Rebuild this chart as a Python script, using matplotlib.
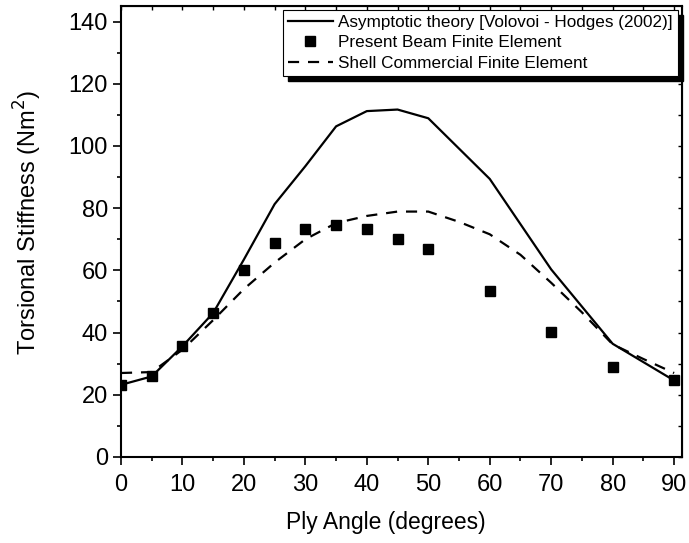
import matplotlib.pyplot as plt
from matplotlib.ticker import MultipleLocator
from matplotlib.patches import Rectangle

plt.rcParams['font.family'] = ['Liberation Sans', 'DejaVu Sans']

# asymptotic theory (solid line)
theory_angle = [0, 5, 10, 15, 20, 25, 30, 35, 40, 45, 50, 60, 70, 80, 90]
theory_stiff = [23.2, 25.9, 35.6, 46.3, 63.5, 81.3, 93.5, 106.3, 111.2, 111.7, 108.9, 89.4, 60.3, 36.4, 24.6]

# present beam FE (squares)
beam_angle = [0, 5, 10, 15, 20, 25, 30, 35, 40, 45, 50, 60, 70, 80, 90]
beam_stiff = [23.3, 25.9, 35.6, 46.3, 60.0, 68.9, 73.4, 74.5, 73.4, 70.0, 66.8, 53.3, 40.1, 28.9, 24.6]

# shell commercial FE (dashed)
shell_angle = [0, 5, 10, 15, 20, 25, 30, 35, 40, 45, 50, 55, 60, 65, 70, 75, 80, 85, 90]
shell_stiff = [27.0, 27.3, 34.5, 44.0, 54.0, 62.5, 70.0, 75.2, 77.5, 78.9, 78.9, 75.6, 71.6, 65.0, 56.0, 46.5, 36.2, 31.5, 27.0]

fig = plt.figure(figsize=(6.89, 5.43), dpi=100)
ax = fig.add_axes([0.1756, 0.1584, 0.8144, 0.8306])

ax.plot(theory_angle, theory_stiff, color='black', lw=1.6, ls='-',
        label='Asymptotic theory [Volovoi - Hodges (2002)]')
ax.plot(beam_angle, beam_stiff, ls='none', marker='s', ms=7.5, color='black',
        label='Present Beam Finite Element')
ax.plot(shell_angle, shell_stiff, color='black', lw=1.6, ls=(0, (5, 4)),
        label='Shell Commercial Finite Element')

ax.set_xlim(0, 91.3)
ax.set_ylim(0, 145)
ax.xaxis.set_major_locator(MultipleLocator(10))
ax.xaxis.set_minor_locator(MultipleLocator(5))
ax.yaxis.set_major_locator(MultipleLocator(20))
ax.yaxis.set_minor_locator(MultipleLocator(10))
ax.tick_params(which='both', direction='out', labelsize=17, width=1.2)
ax.tick_params(which='major', length=6)
ax.tick_params(axis='x', which='major', pad=6)
ax.tick_params(which='minor', length=3)
for s in ax.spines.values():
    s.set_linewidth(1.5)

# inward ticks on top and right, no labels
top = ax.secondary_xaxis('top')
top.xaxis.set_major_locator(MultipleLocator(5))
top.tick_params(direction='in', length=3, labeltop=False, width=1)
right = ax.secondary_yaxis('right')
right.yaxis.set_major_locator(MultipleLocator(10))
right.tick_params(direction='in', length=3, labelright=False, width=1)

ax.set_xlabel('Ply Angle (degrees)', fontsize=16.5, va='center')
ax.xaxis.set_label_coords(0.472, -0.146)
ax.set_ylabel('Torsional Stiffness (Nm$^2$)', fontsize=17, va='center')
ax.yaxis.set_label_coords(-0.166, 0.521)

leg = ax.legend(loc='upper left', bbox_to_anchor=(0.289, 0.992), borderaxespad=0,
                fontsize=12.3, frameon=True, fancybox=False, labelspacing=0.32,
                handlelength=2.6, handletextpad=0.3, borderpad=0.3, framealpha=1)
leg.get_frame().set_edgecolor('black')
leg.get_frame().set_linewidth(0.8)
leg.set_zorder(10)

# solid black drop shadow behind the legend box
fig.canvas.draw()
bb = leg.get_window_extent().transformed(fig.transFigure.inverted())
dx, dy = 5 / 689, 5 / 543
ax.add_patch(Rectangle((bb.x0 + dx, bb.y0 - dy), bb.width, bb.height,
                       transform=fig.transFigure, color='black', zorder=9,
                       clip_on=False))

fig.savefig('out.png', dpi=100)
